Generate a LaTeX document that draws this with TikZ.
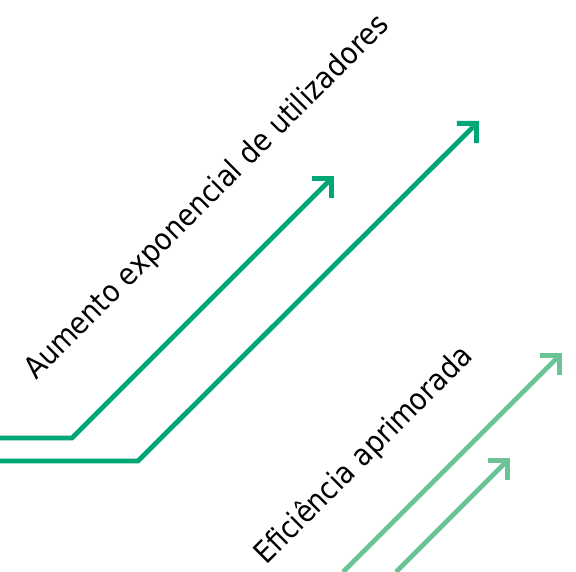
\documentclass[tikz,border=0pt]{standalone}
\usepackage{fontspec}
\setmainfont{DejaVu Sans Condensed}
\usetikzlibrary{arrows.meta}
\definecolor{darkgreen}{HTML}{00A676}
\definecolor{lightgreen}{HTML}{6CC396}
\tikzset{
  trend/.style={line width=4.8pt, -{Straight Barb[length=14pt, width=28pt]}},
  caption/.style={rotate=45, anchor=base west, inner sep=0pt, font=\fontsize{30}{34}\selectfont}
}

\begin{document}
\begin{tikzpicture}[x=1pt, y=1pt]
  \useasboundingbox (0,0) rectangle (576,572);
  \coordinate (a0) at (0,134);
  \coordinate (a1) at (72,134);
  \coordinate (a2) at (334,396);
  \coordinate (b0) at (0,111);
  \coordinate (b1) at (138,111);
  \coordinate (b2) at (479,451);
  \coordinate (c0) at (343,0);
  \coordinate (c1) at (562,219);
  \coordinate (d0) at (396,0);
  \coordinate (d1) at (510,114);

  \draw[trend, darkgreen] (a0) -- (a1) -- (a2);
  \draw[trend, darkgreen] (b0) -- (b1) -- (b2);
  \draw[trend, lightgreen] (c0) -- (c1);
  \draw[trend, lightgreen] (d0) -- (d1);

  \node[caption] (users) at (36,191) {Aumento exponencial de utilizadores};
  \node[caption] (gain) at (266,6) {Eficiência aprimorada};
\end{tikzpicture}
\end{document}
